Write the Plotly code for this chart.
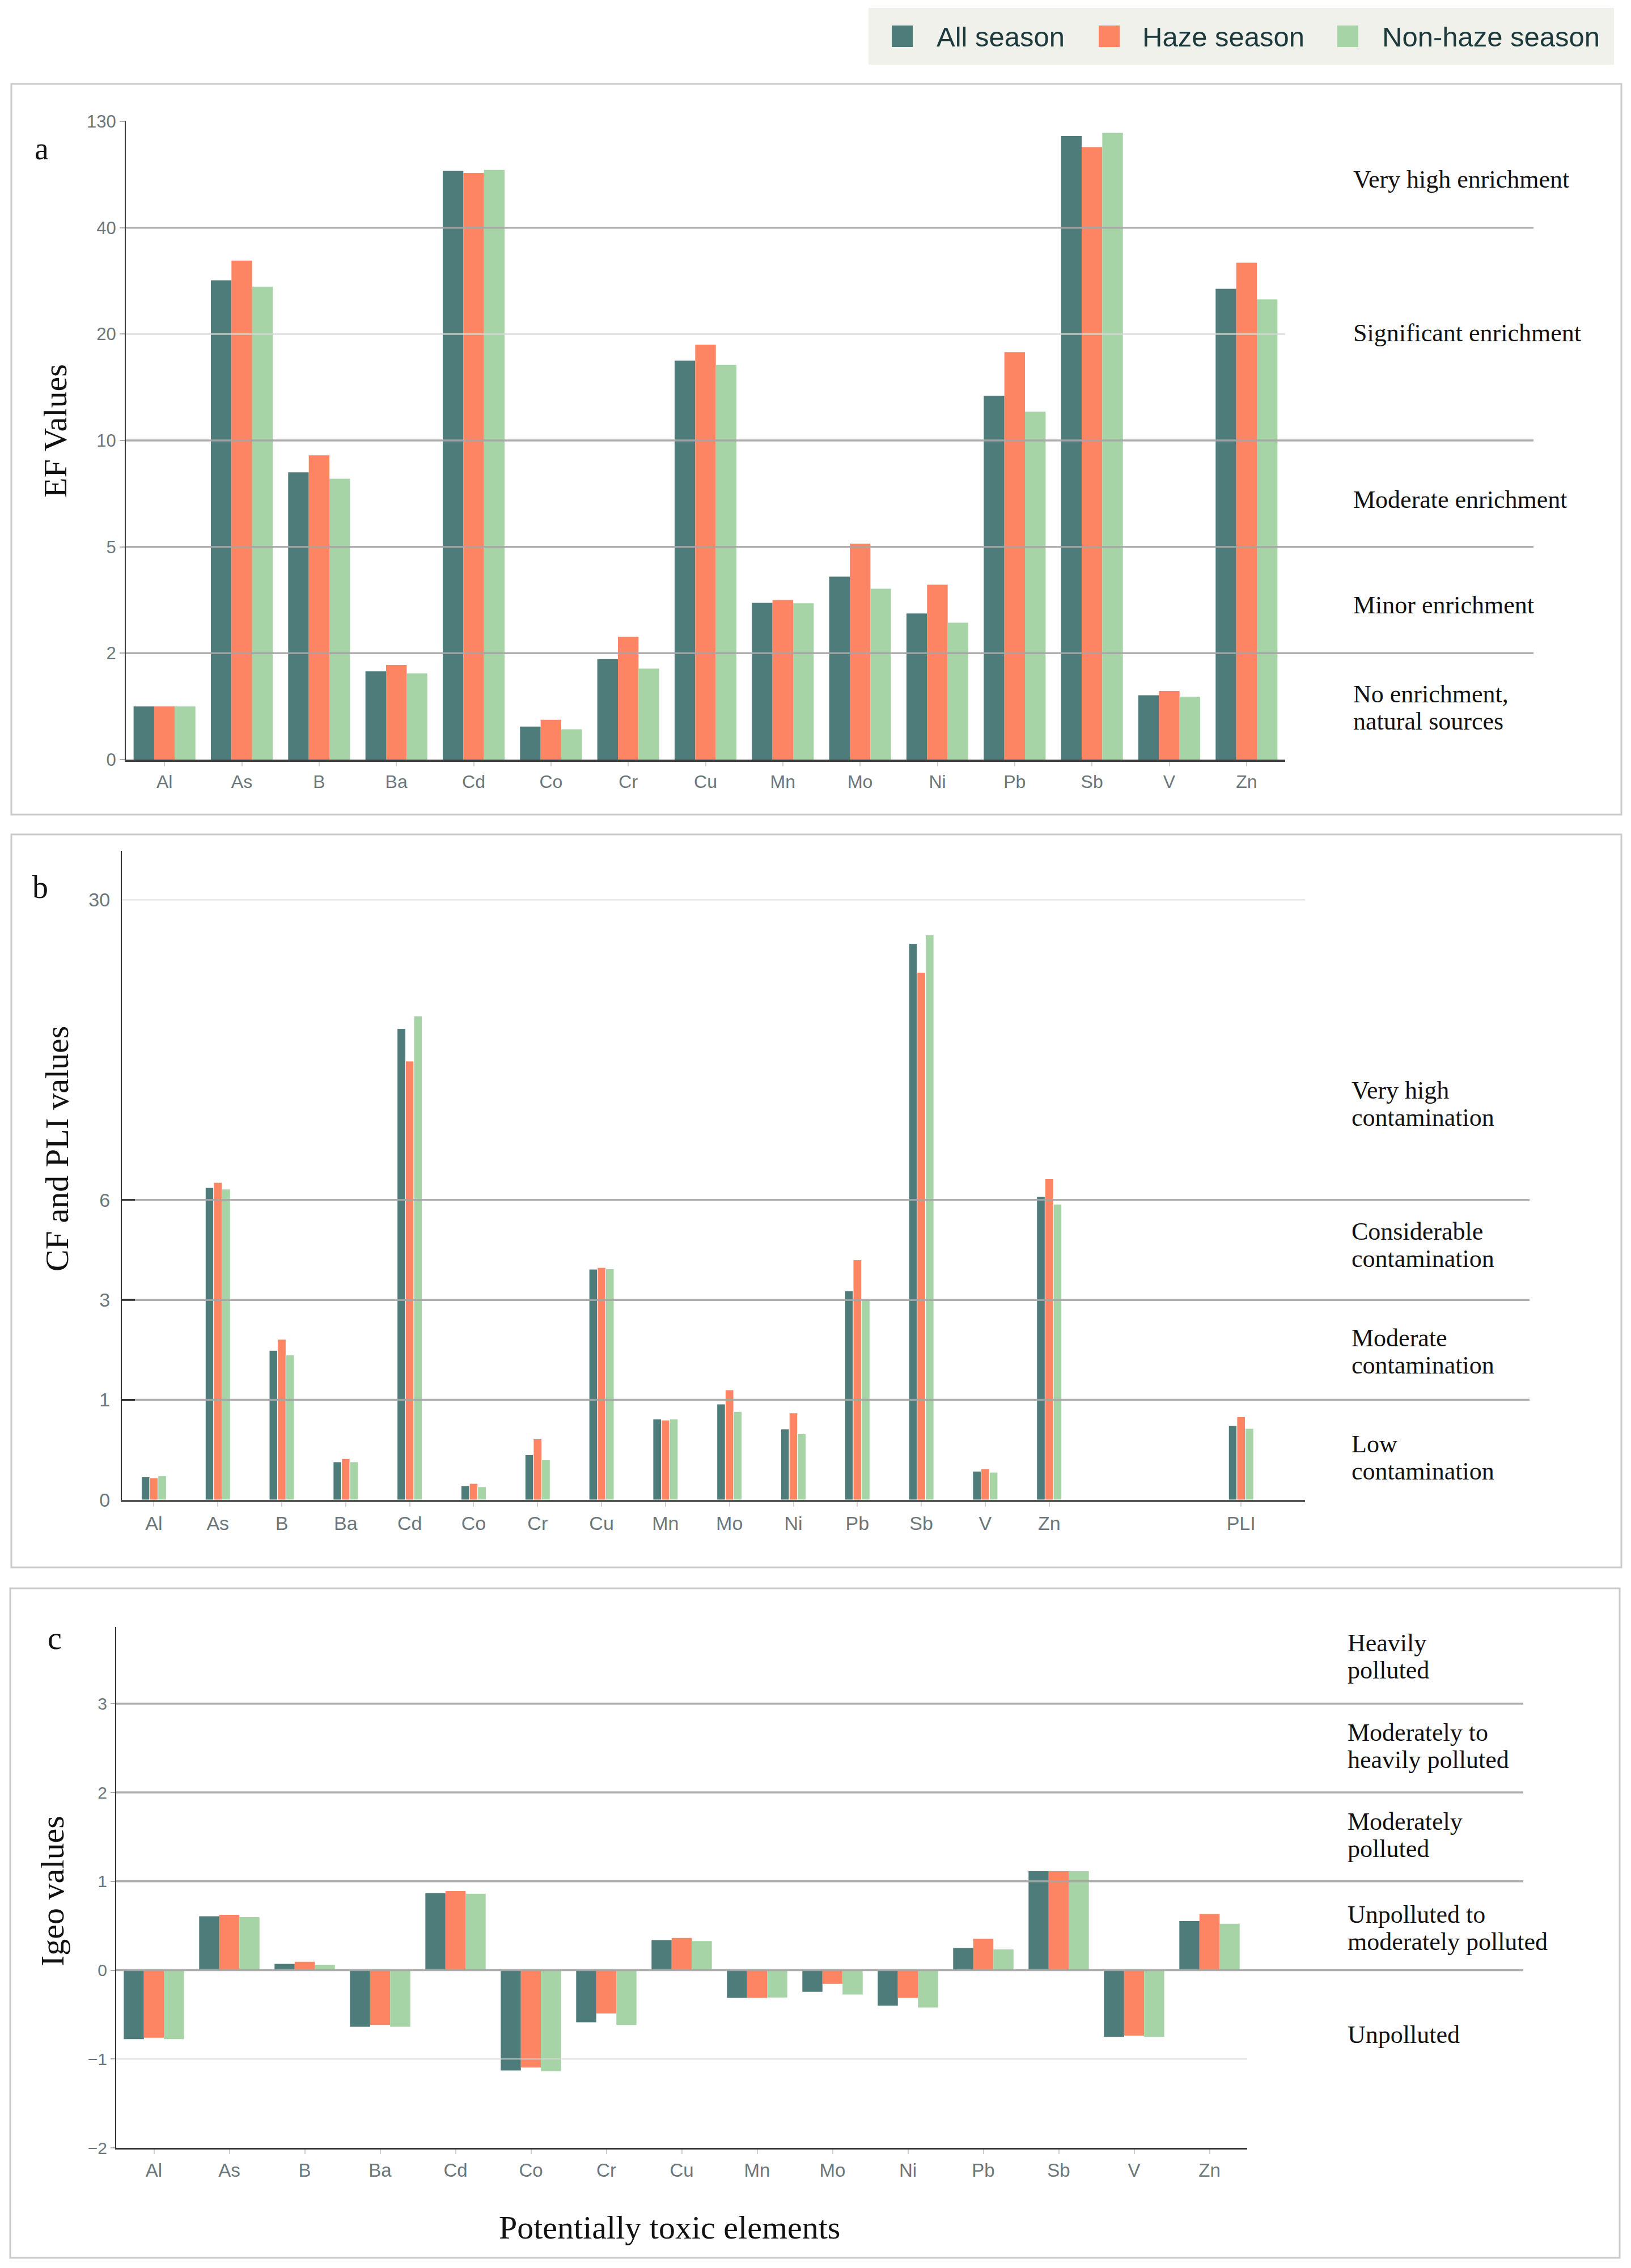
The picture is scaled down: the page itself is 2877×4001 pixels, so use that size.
import numpy as np
import plotly.graph_objects as go

W, H = 2877, 4001

# ---------------- data ----------------
series = ["All season", "Haze season", "Non-haze season"]
colors = ["#4e7c7a", "#fd8563", "#a6d4a7"]

elements = ["Al", "As", "B", "Ba", "Cd", "Co", "Cr", "Cu", "Mn", "Mo", "Ni", "Pb", "Sb", "V", "Zn"]

# (a) Enrichment factor
ef_all = [1.0, 30.1, 8.5, 1.66, 88.0, 0.62, 1.89, 17.5, 3.42, 4.16, 3.12, 14.2, 117.5, 1.21, 28.5]
ef_haze = [1.0, 33.8, 9.3, 1.78, 86.4, 0.75, 2.46, 19.0, 3.50, 5.15, 3.93, 18.3, 108.2, 1.29, 33.4]
ef_non = [1.0, 28.9, 8.2, 1.62, 88.9, 0.57, 1.71, 17.1, 3.41, 3.82, 2.86, 12.7, 120.3, 1.18, 26.5]
ef_ticks = [0, 2, 5, 10, 20, 40, 130]
ef_bands = ["Very high enrichment", "Significant enrichment", "Moderate enrichment",
            "Minor enrichment", "No enrichment,<br>natural sources"]

# (b) Contamination factor and PLI
cf_labels = elements + ["PLI"]
cf_all = [0.23, 6.98, 1.99, 0.38, 19.7, 0.141, 0.451, 3.92, 0.808, 0.958, 0.709, 3.27, 26.5, 0.286, 6.26, 0.742]
cf_haze = [0.22, 7.39, 2.21, 0.413, 17.1, 0.164, 0.61, 3.97, 0.798, 1.20, 0.869, 4.20, 24.2, 0.31, 7.69, 0.831]
cf_non = [0.24, 6.86, 1.90, 0.38, 20.7, 0.131, 0.40, 3.93, 0.808, 0.883, 0.662, 3.00, 27.2, 0.277, 5.87, 0.714]
cf_ticks = [0, 1, 3, 6, 30]
cf_bands = ["Very high<br>contamination", "Considerable<br>contamination",
            "Moderate<br>contamination", "Low<br>contamination"]

# (c) Geo-accumulation index
igeo_all = [-0.776, 0.607, 0.07, -0.637, 0.866, -1.129, -0.587, 0.338, -0.313, -0.244, -0.40, 0.249, 1.114, -0.751, 0.552]
igeo_haze = [-0.761, 0.622, 0.095, -0.617, 0.891, -1.095, -0.488, 0.363, -0.313, -0.154, -0.313, 0.353, 1.114, -0.736, 0.632]
igeo_non = [-0.776, 0.597, 0.06, -0.637, 0.861, -1.139, -0.617, 0.328, -0.308, -0.274, -0.42, 0.234, 1.114, -0.751, 0.522]
igeo_ticks = [-2, -1, 0, 1, 2, 3]
igeo_bands = ["Heavily<br>polluted", "Moderately to<br>heavily polluted", "Moderately<br>polluted",
              "Unpolluted to<br>moderately polluted", "Unpolluted"]

# ---------------- axis transforms (broken scales) ----------------
ef_pos = [0, 1, 2, 3, 4, 5, 6]
cf_pos = [0, 1, 2, 3, 6]


def ef_t(v):
    return np.interp(v, ef_ticks, ef_pos)


def cf_t(v):
    return np.interp(v, cf_ticks, cf_pos)


def px(x):
    return x / W


def py(y):
    return 1 - y / H


SERIF = "Liberation Serif"
SANS = "Liberation Sans"
TICKC = "#6b777b"

fig = go.Figure()

# panel a bars
wa = 0.8 / 3
for i, (vals, name) in enumerate(zip([ef_all, ef_haze, ef_non], series)):
    fig.add_trace(go.Bar(x=elements, y=ef_t(vals), name=name, marker_color=colors[i],
                         width=wa, offset=-1.5 * wa + i * wa, xaxis="x", yaxis="y",
                         showlegend=False, customdata=vals,
                         hovertemplate="%{x}: %{customdata}<extra>" + name + "</extra>"))
# panel b bars
cf_cats = elements + [" ", "  ", "PLI"]
wb = 0.39 / 3
for i, (vals, name) in enumerate(zip([cf_all, cf_haze, cf_non], series)):
    fig.add_trace(go.Bar(x=cf_labels, y=cf_t(vals), name=name, marker_color=colors[i],
                         marker_line=dict(color="white", width=1),
                         width=wb, offset=-1.5 * wb + i * wb, xaxis="x2", yaxis="y2",
                         showlegend=False, customdata=vals,
                         hovertemplate="%{x}: %{customdata}<extra>" + name + "</extra>"))
# panel c bars
for i, (vals, name) in enumerate(zip([igeo_all, igeo_haze, igeo_non], series)):
    fig.add_trace(go.Bar(x=elements, y=vals, name=name, marker_color=colors[i],
                         width=wa, offset=-1.5 * wa + i * wa, xaxis="x3", yaxis="y3",
                         showlegend=False))

xcommon = dict(type="category", showline=True, linecolor="#3d3d3d", ticks="outside",
               ticklen=8, tickwidth=2, tickcolor="#cfcfcf", showgrid=False, zeroline=False,
               automargin=False, tickfont=dict(family=SANS, color=TICKC))
ycommon = dict(showline=True, linewidth=2, showgrid=False, zeroline=False, automargin=False)

fig.update_layout(
    template="none",
    width=W, height=H, autosize=False, margin=dict(l=0, r=0, t=0, b=0, pad=0, autoexpand=False),
    paper_bgcolor="white", plot_bgcolor="white", barmode="overlay", showlegend=False,
    xaxis=dict(xcommon, domain=[px(222), px(2267)], anchor="y", range=[-0.5, 14.5],
               categoryorder="array", categoryarray=elements, linewidth=4,
               tickfont=dict(family=SANS, color=TICKC, size=32)),
    yaxis=dict(ycommon, domain=[py(1340), py(214)], anchor="x", range=[0, 6],
               tickvals=ef_pos, ticktext=[str(t) for t in ef_ticks],
               linecolor="#3d3d3d", ticks="outside",
               ticklen=9, tickwidth=2, tickcolor="#aaaaaa",
               tickfont=dict(family=SANS, color=TICKC, size=31)),
    xaxis2=dict(xcommon, domain=[px(215), px(2302)], anchor="y2", range=[-0.5, 18.0],
                categoryorder="array", categoryarray=cf_cats, linewidth=4,
                tickvals=cf_labels, ticktext=cf_labels,
                linecolor="#555555", tickfont=dict(family=SANS, color=TICKC, size=34)),
    yaxis2=dict(ycommon, domain=[py(2646), py(1501)], anchor="x2", range=[0, 6.49],
                tickvals=cf_pos, ticktext=[str(t) for t in cf_ticks],
                linecolor="#333333", ticks="outside",
                ticklen=12, tickcolor="rgba(0,0,0,0)",
                tickfont=dict(family=SANS, color=TICKC, size=34)),
    xaxis3=dict(xcommon, domain=[px(205), px(2200)], anchor="y3", range=[-0.5, 14.5],
                categoryorder="array", categoryarray=elements, linewidth=3,
                linecolor="#333333", tickfont=dict(family=SANS, color=TICKC, size=33)),
    yaxis3=dict(ycommon, domain=[py(3789), py(2870)], anchor="x3", range=[-2, 3.864],
                tickvals=igeo_ticks, ticktext=[("\u2212" + str(-t)) if t < 0 else str(t) for t in igeo_ticks],
                linecolor="#333333", ticks="outside",
                ticklen=8, tickwidth=2, tickcolor="#aaaaaa",
                tickfont=dict(family=SANS, color=TICKC, size=30)),
)

shapes = []
# panel boxes
for (x0, y0, x1, y1) in [(20, 148, 2860, 1437), (20, 1472, 2860, 2765), (18, 2802, 2857, 3983)]:
    shapes.append(dict(type="rect", xref="paper", yref="paper", x0=px(x0), x1=px(x1),
                       y0=py(y0), y1=py(y1), line=dict(color="#cbcbcb", width=3),
                       fillcolor="rgba(0,0,0,0)", layer="below"))

DARK = "rgba(165,165,165,0.9)"
LIGHT = "rgba(215,215,215,0.8)"
# panel a threshold lines
for v in [2, 5, 10, 40]:
    shapes.append(dict(type="line", xref="paper", yref="y", x0=px(222), x1=px(2705),
                       y0=float(ef_t(v)), y1=float(ef_t(v)), line=dict(color=DARK, width=3.5), layer="above"))
shapes.append(dict(type="line", xref="paper", yref="y", x0=px(222), x1=px(2267),
                   y0=float(ef_t(20)), y1=float(ef_t(20)), line=dict(color=LIGHT, width=3), layer="above"))
# panel b threshold lines
for v in [1, 3, 6]:
    shapes.append(dict(type="line", xref="paper", yref="y2", x0=px(215), x1=px(2698),
                       y0=float(cf_t(v)), y1=float(cf_t(v)), line=dict(color=DARK, width=3.5), layer="above"))
    shapes.append(dict(type="line", xref="paper", yref="y2", x0=px(214), x1=px(238),
                       y0=float(cf_t(v)), y1=float(cf_t(v)), line=dict(color="#2d2d2d", width=3), layer="above"))
shapes.append(dict(type="line", xref="paper", yref="y2", x0=px(215), x1=px(2302),
                   y0=float(cf_t(30)), y1=float(cf_t(30)), line=dict(color=LIGHT, width=2), layer="above"))
# panel c threshold lines
for v in [0, 1, 2, 3]:
    shapes.append(dict(type="line", xref="paper", yref="y3", x0=px(205), x1=px(2687),
                       y0=v, y1=v, line=dict(color=DARK, width=3.5), layer="above"))
shapes.append(dict(type="line", xref="paper", yref="y3", x0=px(205), x1=px(2200),
                   y0=-1, y1=-1, line=dict(color=LIGHT, width=2), layer="above"))

# legend box
shapes.append(dict(type="rect", xref="paper", yref="paper", x0=px(1532), x1=px(2847),
                   y0=py(114), y1=py(14), line=dict(width=0), fillcolor="#f1f1ec", layer="below"))
leg_marker_x = [1573, 1938, 2359]
for i, mx in enumerate(leg_marker_x):
    shapes.append(dict(type="rect", xref="paper", yref="paper", x0=px(mx), x1=px(mx + 37),
                       y0=py(83), y1=py(45), line=dict(width=0), fillcolor=colors[i], layer="above"))

annotations = []
leg_text_x = [1650, 2013, 2436]
for i, tx in enumerate(leg_text_x):
    annotations.append(dict(text=series[i], xref="paper", yref="paper", x=px(tx), y=py(65),
                            xanchor="left", yanchor="middle", showarrow=False,
                            font=dict(family=SANS, size=49, color="#1c3a3c")))

# panel letters
for txt, x, y in [("a", 73, 262), ("b", 71, 1565), ("c", 96, 2890)]:
    annotations.append(dict(text=txt, xref="paper", yref="paper", x=px(x), y=py(y),
                            xanchor="center", yanchor="middle", showarrow=False,
                            font=dict(family=SERIF, size=56, color="#111111")))

# axis titles
for txt, x, y in [("EF Values", 97, 760), ("CF and PLI values", 100, 2027), ("Igeo values", 92, 3336)]:
    annotations.append(dict(text=txt, xref="paper", yref="paper", x=px(x), y=py(y), textangle=-90,
                            xanchor="center", yanchor="middle", showarrow=False,
                            font=dict(family=SERIF, size=58, color="#111111")))
annotations.append(dict(text="Potentially toxic elements", xref="paper", yref="paper",
                        x=px(1181), y=py(3929), xanchor="center", yanchor="middle", showarrow=False,
                        font=dict(family=SERIF, size=58, color="#111111")))


def band_labels(labels, ys, yref, xleft, gap=48):
    out = []
    for lab, yv in zip(labels, ys):
        lines = lab.split("<br>")
        n = len(lines)
        for k, ln in enumerate(lines):
            out.append(dict(text=ln, xref="paper", yref=yref, x=px(xleft), y=yv,
                            yshift=((n - 1) / 2 - k) * gap, xanchor="left", yanchor="middle",
                            showarrow=False, font=dict(family=SERIF, size=44, color="#111111")))
    return out


annotations += band_labels(ef_bands, [5.456, 4.01, 2.445, 1.454, 0.485], "y", 2385)
annotations += band_labels(cf_bands, [3.96, 2.55, 1.48, 0.425], "y2", 2382)
annotations += band_labels(igeo_bands, [3.53, 2.52, 1.52, 0.47, -0.73], "y3", 2375)

fig.update_layout(shapes=shapes, annotations=annotations)
fig.write_html("out.html", config={"displayModeBar": False},
               post_script="document.body.style.margin='0';document.body.style.overflow='hidden';")
